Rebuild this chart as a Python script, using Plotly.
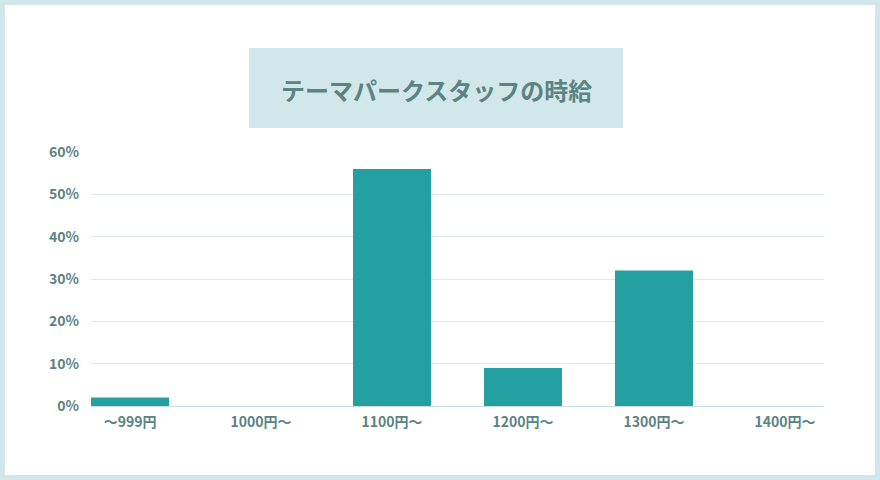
import plotly.graph_objects as go

# data
categories = ["〜999円", "1000円〜", "1100円〜", "1200円〜", "1300円〜", "1400円〜"]
shares = [2, 0, 56, 9, 32, 0]
tick_vals = [0, 10, 20, 30, 40, 50, 60]
tick_text = ["0%", "10%", "20%", "30%", "40%", "50%", "60%"]
title_text = "テーマパークスタッフの時給"

border_color = "#d1e7e9"
bar_color = "#24a0a3"
text_color = "#5b8383"
grid_color = "#dde9ea"
font_family = "Noto Sans CJK JP"

width = 880
height = 480
# plot area in pixels
pl, pr, pt, pb = 91, 824, 152, 406


def px_x(p):
    return (p - pl) / (pr - pl)


def px_y(p):
    return (pb - p) / (pb - pt)


fig = go.Figure()
fig.add_trace(go.Bar(
    x=list(range(len(categories))),
    y=shares,
    marker=dict(color=bar_color, line=dict(width=0)),
    width=78 / 131,
    hoverinfo="skip",
))

fig.update_layout(
    width=width,
    height=height,
    showlegend=False,
    paper_bgcolor=border_color,
    plot_bgcolor="white",
    margin=dict(l=pl, r=width - pr, t=pt, b=height - pb, pad=0),
    font=dict(family=font_family, color=text_color),
    shapes=[
        # white card
        dict(type="rect", xref="paper", yref="paper", layer="below",
             x0=px_x(5), x1=px_x(875), y0=px_y(475), y1=px_y(5),
             fillcolor="white", line=dict(width=0)),
        # title box
        dict(type="rect", xref="paper", yref="paper", layer="below",
             x0=px_x(249), x1=px_x(623), y0=px_y(128), y1=px_y(48),
             fillcolor=border_color, line=dict(width=0)),
    ],
    annotations=[
        dict(text="<b>" + title_text + "</b>", xref="paper", yref="paper",
             x=px_x(436), y=px_y(89), xanchor="center", yanchor="middle",
             showarrow=False, font=dict(size=24, color=text_color, family=font_family)),
    ],
)

fig.update_xaxes(
    tickmode="array",
    tickvals=list(range(len(categories))),
    ticktext=categories,
    range=[-0.298, 5.298],
    showgrid=False,
    zeroline=False,
    showline=False,
    ticks="",
    ticklabelstandoff=6,
    tickfont=dict(size=14, color=text_color, weight="bold"),
    fixedrange=True,
)
fig.update_yaxes(
    range=[0, 60],
    tickmode="array",
    tickvals=tick_vals,
    ticktext=tick_text,
    showgrid=True,
    gridcolor=grid_color,
    gridwidth=1,
    zeroline=True,
    zerolinecolor="#cbdfe0",
    zerolinewidth=1,
    showline=False,
    ticks="",
    ticklabelstandoff=11,
    tickfont=dict(size=14, color=text_color, weight="bold"),
    fixedrange=True,
)

fig.write_html("out.html", config={"displayModeBar": False},
               post_script="document.body.style.margin='0';")
